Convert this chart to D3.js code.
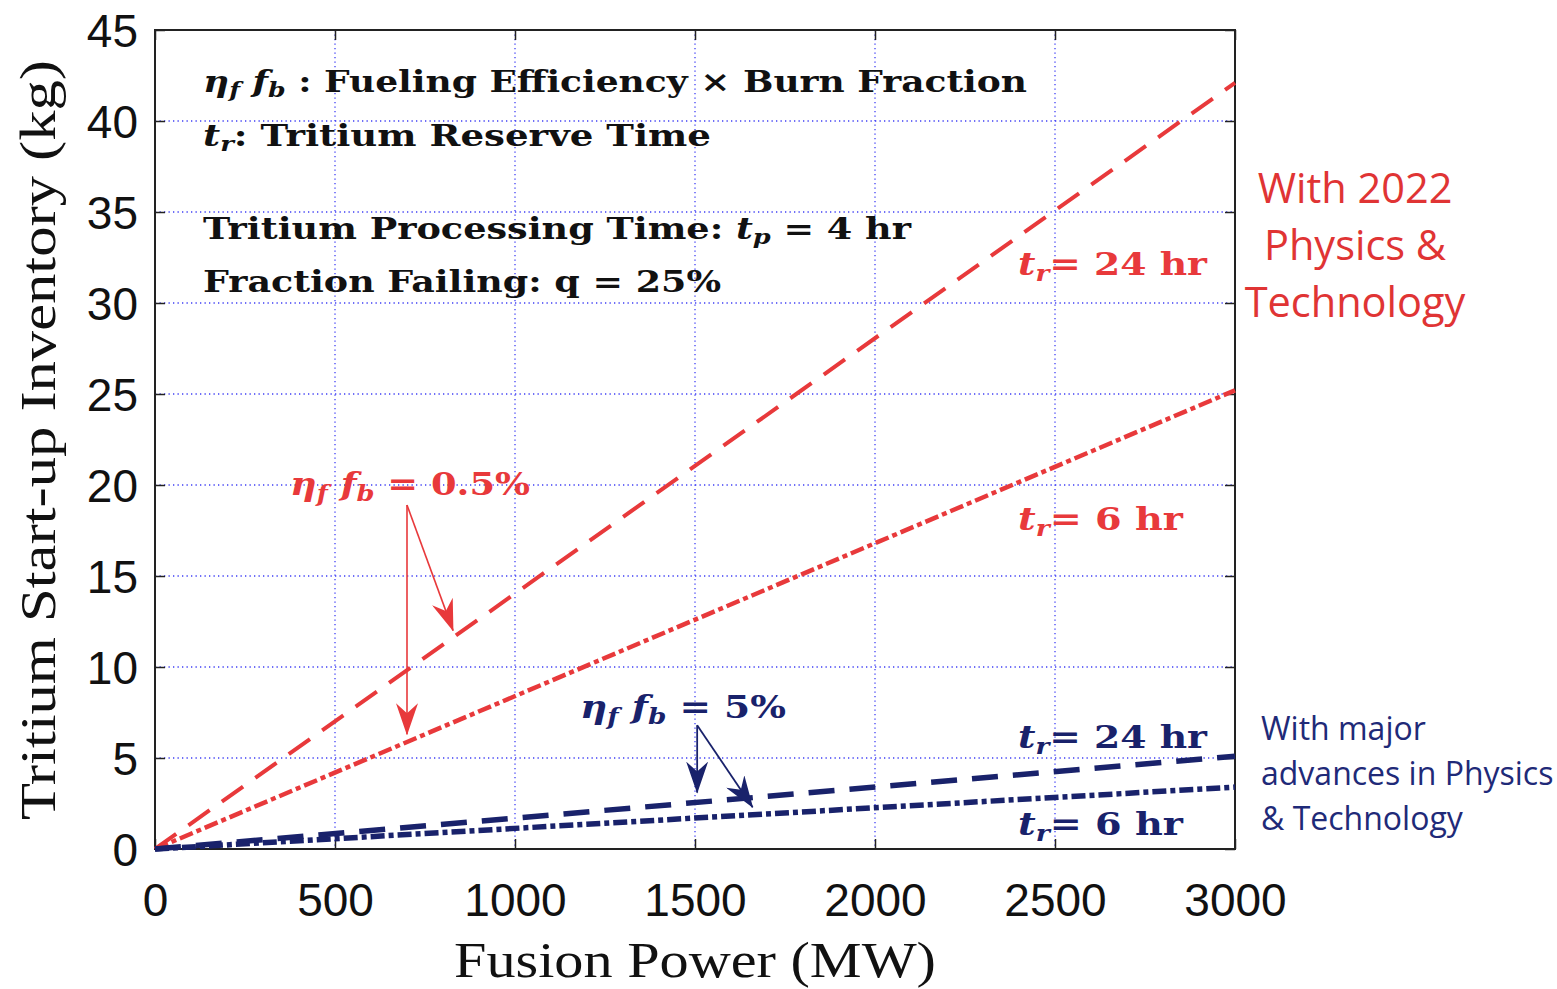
<!DOCTYPE html>
<html lang="en">
  <head>
    <meta charset="utf-8">
    <title>Tritium start-up inventory</title>
    <script type="text/javascript" src="https://d3js.org/d3.v7.min.js"></script>
    <style>
      body { margin: 0; background: #fff; }
    </style>
  </head>
  <body>
    <script type="text/javascript">
    var w = 1557;
    var h = 989;

    // fusion power (MW) end points of the straight lines
    var power = [0, 3000];
    var red24 = [0, 42.1];
    var red6 = [0, 25.2];
    var navy24 = [0, 5.1];
    var navy6 = [0, 3.4];

    var xTicks = [0, 500, 1000, 1500, 2000, 2500, 3000];
    var yTicks = [0, 5, 10, 15, 20, 25, 30, 35, 40, 45];

    // arrow start/end in data units [MW, kg]
    var redArrows = [[[700, 18.9], [700, 6.3]], [[700, 18.9], [828, 12.0]]];
    var navyArrows = [[[1506, 6.8], [1506, 3.1]], [[1506, 6.8], [1660, 2.3]]];

    var RED = "#e8393b";
    var NAVY = "#19226b";

    var margin = {left: 155, right: 1235, top: 30, bottom: 849};
    var xscale = d3.scaleLinear().domain([0, 3000]).range([margin.left, margin.right]);
    var yscale = d3.scaleLinear().domain([0, 45]).range([margin.bottom, margin.top]);

    var svg = d3.select("body").append("svg").attr("width", w).attr("height", h);

    // grid
    var grid = svg.append("g").attr("stroke", "#3f3ff5").attr("stroke-width", 1.3)
      .attr("stroke-dasharray", "1.3,3.2");
    grid.selectAll(".gx").data(xTicks.slice(1, -1)).enter().append("line")
      .attr("x1", xscale).attr("x2", xscale)
      .attr("y1", margin.top).attr("y2", margin.bottom);
    grid.selectAll(".gy").data(yTicks.slice(1, -1)).enter().append("line")
      .attr("x1", margin.left).attr("x2", margin.right)
      .attr("y1", yscale).attr("y2", yscale);

    // axes with inward ticks on all four sides
    var tickFont = "'Liberation Sans', Arial, sans-serif";
    var xAxis = d3.axisBottom(xscale).tickValues(xTicks).tickFormat(d3.format("d"))
      .tickSizeInner(-10).tickSizeOuter(0).tickPadding(0);
    var gx = svg.append("g").attr("transform", "translate(0," + margin.bottom + ")").call(xAxis);
    var yAxis = d3.axisLeft(yscale).tickValues(yTicks).tickSizeInner(-10).tickSizeOuter(0).tickPadding(17);
    var gy = svg.append("g").attr("transform", "translate(" + margin.left + ",0)").call(yAxis);
    svg.append("g").attr("transform", "translate(0," + margin.top + ")")
      .call(d3.axisTop(xscale).tickValues(xTicks).tickSizeInner(-10).tickSizeOuter(0).tickFormat(""));
    svg.append("g").attr("transform", "translate(" + margin.right + ",0)")
      .call(d3.axisRight(yscale).tickValues(yTicks).tickSizeInner(-10).tickSizeOuter(0).tickFormat(""));
    svg.selectAll(".domain").remove();
    svg.selectAll(".tick line").attr("stroke", "#222").attr("stroke-width", 1.5);
    gx.selectAll("text").attr("font-family", tickFont).attr("font-size", 46).attr("fill", "#111")
      .attr("y", 67).attr("dy", null);
    gy.selectAll("text").attr("font-family", tickFont).attr("font-size", 46).attr("fill", "#111")
      .attr("dy", "0.36em");

    svg.append("rect").attr("x", margin.left).attr("y", margin.top)
      .attr("width", margin.right - margin.left).attr("height", margin.bottom - margin.top)
      .attr("fill", "none").attr("stroke", "#222").attr("stroke-width", 2);

    // series lines
    var line = d3.line().x(function(d) { return xscale(d[0]); }).y(function(d) { return yscale(d[1]); });
    var series = [
      {vals: red24, color: RED, dash: "26,15", width: 4},
      {vals: red6, color: RED, dash: "14,4,5,4", width: 4.5},
      {vals: navy24, color: NAVY, dash: "26,15", width: 5.5},
      {vals: navy6, color: NAVY, dash: "14,4,5,4", width: 5.5}
    ];
    svg.selectAll(".series").data(series).enter().append("path")
      .attr("d", function(s) { return line(power.map(function(p, i) { return [p, s.vals[i]]; })); })
      .attr("fill", "none")
      .attr("stroke", function(s) { return s.color; })
      .attr("stroke-width", function(s) { return s.width; })
      .attr("stroke-dasharray", function(s) { return s.dash; });

    // arrows
    var defs = svg.append("defs");
    function marker(id, color) {
      defs.append("marker").attr("id", id).attr("viewBox", "0 0 32 22")
        .attr("refX", 31).attr("refY", 11).attr("markerWidth", 32).attr("markerHeight", 22)
        .attr("markerUnits", "userSpaceOnUse").attr("orient", "auto")
        .append("path").attr("d", "M0,0 L10,11 L0,22 L32,11 Z").attr("fill", color);
    }
    marker("ahRed", RED);
    marker("ahNavy", NAVY);
    function drawArrows(list, color, id, width) {
      svg.selectAll(null).data(list).enter().append("line")
        .attr("x1", function(d) { return xscale(d[0][0]); })
        .attr("y1", function(d) { return yscale(d[0][1]); })
        .attr("x2", function(d) { return xscale(d[1][0]); })
        .attr("y2", function(d) { return yscale(d[1][1]); })
        .attr("stroke", color).attr("stroke-width", width)
        .attr("marker-end", "url(#" + id + ")");
    }
    drawArrows(redArrows, RED, "ahRed", 1.6);
    drawArrows(navyArrows, NAVY, "ahNavy", 1.8);

    // text helpers
    var serif = "'DejaVu Serif', 'Liberation Serif', serif";
    function rich(x, y, parts, opts) {
      var t = svg.append("text").attr("x", x).attr("y", y)
        .attr("font-family", serif).attr("font-size", opts.size)
        .attr("font-weight", opts.weight || "bold").attr("fill", opts.color || "#111");
      if (opts.len) t.attr("textLength", opts.len).attr("lengthAdjust", "spacingAndGlyphs");
      parts.forEach(function(p) {
        var s = t.append("tspan").text(p.t);
        if (p.i) s.attr("font-style", "italic");
        if (p.sub) s.attr("font-size", opts.size * 0.7).attr("baseline-shift", "-25%");
      });
      return t;
    }

    rich(203, 92, [{t: "\u03b7", i: 1}, {t: "f", i: 1, sub: 1}, {t: " f", i: 1}, {t: "b", i: 1, sub: 1},
      {t: " :  Fueling Efficiency "}, {t: "\u00d7", }, {t: " Burn Fraction"}], {size: 29, len: 824});
    rich(203, 146, [{t: "t", i: 1}, {t: "r", i: 1, sub: 1}, {t: ":  Tritium Reserve Time"}], {size: 29, len: 508});
    rich(203, 239, [{t: "Tritium Processing Time:  "}, {t: "t", i: 1}, {t: "p", i: 1, sub: 1},
      {t: " = 4 hr"}], {size: 29, len: 708});
    rich(203, 292, [{t: "Fraction Failing:  q = 25%"}], {size: 29, len: 518});

    rich(290, 495, [{t: "\u03b7", i: 1}, {t: "f", i: 1, sub: 1}, {t: " f", i: 1}, {t: "b", i: 1, sub: 1},
      {t: " = 0.5%"}], {size: 31, color: RED, len: 240});
    rich(580, 718, [{t: "\u03b7", i: 1}, {t: "f", i: 1, sub: 1}, {t: " f", i: 1}, {t: "b", i: 1, sub: 1},
      {t: " = 5%"}], {size: 31, color: NAVY, len: 206});

    rich(1018, 275, [{t: "t", i: 1}, {t: "r", i: 1, sub: 1}, {t: "= 24 hr"}], {size: 31, color: RED, len: 189});
    rich(1018, 530, [{t: "t", i: 1}, {t: "r", i: 1, sub: 1}, {t: "= 6 hr"}], {size: 31, color: RED, len: 165});
    rich(1018, 748, [{t: "t", i: 1}, {t: "r", i: 1, sub: 1}, {t: "= 24 hr"}], {size: 31, color: NAVY, len: 189});
    rich(1018, 835, [{t: "t", i: 1}, {t: "r", i: 1, sub: 1}, {t: "= 6 hr"}], {size: 31, color: NAVY, len: 165});

    // axis titles
    svg.append("text").attr("x", 695).attr("y", 977).attr("text-anchor", "middle")
      .attr("font-family", "'Liberation Serif', serif").attr("font-size", 50).attr("fill", "#111")
      .attr("textLength", 482).attr("lengthAdjust", "spacingAndGlyphs")
      .text("Fusion Power (MW)");
    svg.append("text").attr("transform", "translate(55,440) rotate(-90)").attr("text-anchor", "middle")
      .attr("font-family", "'Liberation Serif', serif").attr("font-size", 50).attr("fill", "#111")
      .attr("textLength", 760).attr("lengthAdjust", "spacingAndGlyphs")
      .text("Tritium Start-up Inventory (kg)");

    // side notes
    var sideFont = "'Open Sans', 'Noto Sans', sans-serif";
    var redNote = ["With 2022", "Physics &", "Technology"];
    svg.selectAll(".rn").data(redNote).enter().append("text")
      .attr("x", 1355).attr("y", function(d, i) { return 203 + i * 57; })
      .attr("text-anchor", "middle").attr("font-family", sideFont).attr("font-size", 41.5)
      .attr("fill", "#e03434").text(function(d) { return d; });
    var navyNote = ["With major", "advances in Physics", "& Technology"];
    svg.selectAll(".nn").data(navyNote).enter().append("text")
      .attr("x", 1261).attr("y", function(d, i) { return 740 + i * 45; })
      .attr("font-family", sideFont).attr("font-size", 32)
      .attr("fill", "#1f2a78").text(function(d) { return d; });
    </script>
  </body>
</html>
